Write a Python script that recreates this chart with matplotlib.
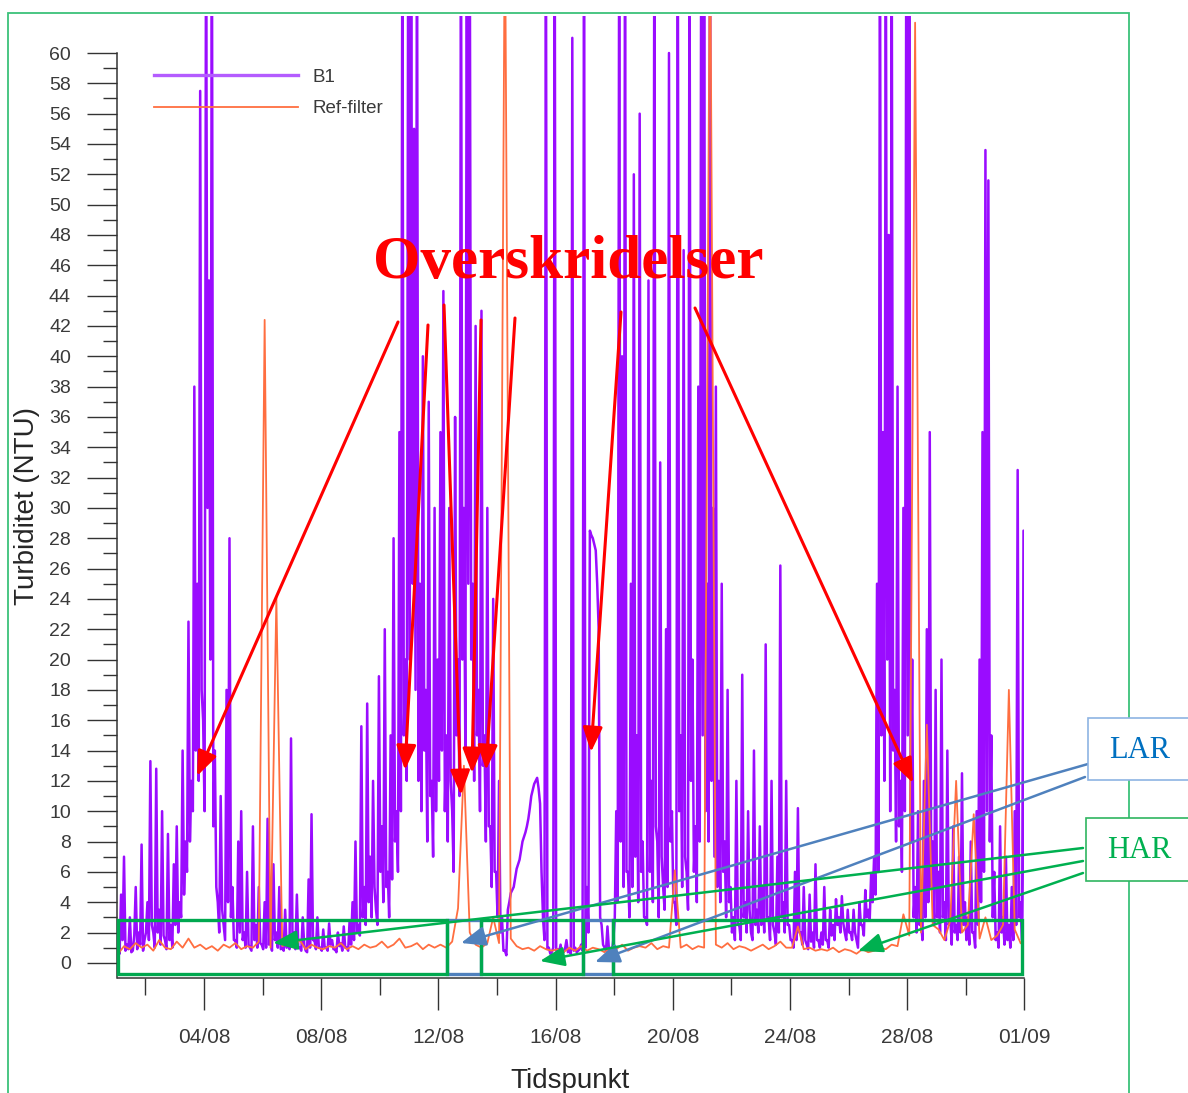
import matplotlib.pyplot as plt
import numpy as np
from matplotlib.patches import Rectangle

plt.rcParams['font.family'] = ['Liberation Sans', 'DejaVu Sans']

W, H = 1188, 1093

# B1 turbidity (NTU), peak reading per 0.1 day from 01/08 (values above 62 are cut by the axis)
b1 = [
    1.0, 4.5, 7.0, 1.2, 3.0, 0.8, 5.0, 2.0, 7.8, 1.5,
    4.0, 13.3, 2.0, 12.8, 3.5, 10.0, 1.5, 8.5, 2.5, 6.5,
    9.0, 4.0, 14.0, 8.0, 22.5, 12.0, 38.0, 25.0, 57.5, 16.0,
    70, 45.0, 70, 14.0, 4.0, 11.0, 2.5, 18.0, 28.0, 5.0,
    1.5, 8.0, 10.0, 2.0, 6.0, 1.0, 9.0, 2.5, 5.0, 1.2,
    4.0, 9.5, 1.5, 6.5, 2.0, 5.0, 1.0, 3.5, 1.2, 14.8,
    2.0, 4.5, 1.0, 3.0, 0.8, 5.5, 9.8, 1.5, 3.0, 1.0,
    2.2, 1.0, 2.6, 1.5, 0.9, 2.0, 1.3, 2.4, 1.0, 2.8,
    4.0, 8.0, 2.5, 15.6, 5.0, 17.1, 7.0, 12.0, 3.5, 18.9,
    9.0, 22.0, 6.0, 15.0, 28.0, 10.0, 35.0, 70, 20.0, 70,
    70, 55.0, 70, 25.0, 40.0, 18.0, 37.0, 12.0, 30.0, 20.0,
    35.0, 44.3, 15.0, 30.0, 10.0, 36.0, 20.0, 70, 30.0, 70,
    70, 25.0, 42.0, 18.0, 43.0, 15.0, 30.0, 9.0, 24.0, 6.0,
    12.0, 3.0, 0.8, 3.5, 4.6, 5.0, 6.2, 6.8, 8.0, 8.6,
    9.5, 11.0, 11.8, 12.2, 10.5, 3.0, 70, 1.0, 0.7, 70,
    0.9, 1.2, 0.7, 1.5, 0.8, 61.0, 1.0, 0.8, 1.2, 70,
    5.0, 28.5, 28.0, 27.2, 22.0, 2.5, 1.0, 2.4, 0.8, 1.5,
    10.0, 70, 40.0, 70, 6.0, 25.0, 52.0, 15.0, 56.0, 8.0,
    3.0, 45.0, 12.0, 70, 8.0, 33.0, 5.0, 22.0, 60.0, 10.0,
    4.0, 70, 15.0, 47.0, 6.0, 70, 20.0, 9.0, 38.0, 70,
    70, 25.0, 70, 30.0, 38.0, 12.0, 25.0, 8.0, 18.0, 5.0,
    3.0, 12.0, 2.5, 19.0, 4.0, 10.0, 2.0, 14.0, 3.5, 9.0,
    5.0, 21.0, 3.0, 12.0, 2.0, 7.0, 26.2, 4.0, 12.0, 2.5,
    1.5, 6.0, 10.2, 2.0, 5.0, 1.2, 4.5, 2.0, 6.5, 1.5,
    2.0, 5.0, 1.5, 3.5, 2.5, 4.2, 3.0, 4.4, 2.0, 3.5,
    2.0, 3.5, 1.5, 4.0, 2.5, 4.8, 3.5, 5.9, 7.0, 25.0,
    70, 35.0, 70, 48.0, 70, 18.0, 38.0, 12.0, 30.0, 70,
    70, 20.0, 5.0, 10.0, 3.0, 12.0, 22.0, 35.0, 8.0, 18.0,
    6.0, 20.0, 4.0, 14.0, 3.0, 9.0, 2.5, 7.0, 12.5, 4.0,
    3.0, 8.0, 2.0, 10.0, 20.0, 35.0, 53.6, 51.6, 15.0, 6.0,
    2.0, 9.0, 3.0, 7.0, 2.5, 5.0, 10.0, 32.5, 4.0, 28.5,
]

# B1 trough reading between consecutive peaks above (0.05 day later)
b1_low = [
    0.6, 1.5, 0.8, 0.9, 0.7, 1.8, 0.9, 1.2, 0.8, 2.0,
    1.5, 2.5, 1.0, 2.0, 1.2, 1.8, 0.9, 1.5, 1.0, 2.5,
    2.0, 3.0, 4.5, 6.0, 8.0, 10.0, 14.0, 12.0, 18.0, 10.0,
    30.0, 20.0, 9.0, 5.0, 2.0, 3.5, 1.5, 4.0, 3.0, 1.5,
    1.0, 2.0, 1.5, 1.0, 1.2, 0.8, 1.5, 1.0, 1.3, 0.9,
    1.0, 1.2, 0.8, 1.5, 1.0, 0.9, 0.8, 1.0, 0.9, 1.5,
    0.9, 1.0, 0.8, 1.2, 0.7, 1.0, 1.5, 0.9, 1.0, 0.8,
    1.0, 0.8, 1.2, 0.9, 0.7, 1.1, 0.8, 1.0, 0.8, 1.2,
    1.5, 2.0, 1.8, 3.0, 2.5, 4.0, 3.0, 5.0, 2.5, 6.0,
    4.0, 5.0, 3.0, 5.5, 8.0, 6.0, 10.0, 15.0, 12.0, 20.0,
    25.0, 18.0, 12.0, 10.0, 14.0, 8.0, 11.0, 7.0, 10.0, 12.0,
    14.0, 10.0, 8.0, 12.0, 6.0, 15.0, 11.0, 20.0, 14.0, 25.0,
    20.0, 12.0, 15.0, 10.0, 13.0, 8.0, 9.0, 5.0, 6.0, 3.0,
    2.0, 0.8, 0.5, 4.0, 4.8, 5.6, 6.5, 7.4, 8.3, 9.0,
    10.2, 11.4, 12.0, 11.5, 6.0, 1.5, 0.9, 0.6, 1.0, 0.8,
    0.7, 0.6, 0.9, 0.7, 0.6, 0.8, 0.7, 0.9, 0.8, 1.0,
    2.0, 28.2, 27.6, 25.0, 3.0, 1.2, 0.8, 0.9, 0.7, 3.0,
    4.0, 8.0, 5.0, 6.0, 3.0, 5.0, 7.0, 4.0, 6.0, 3.0,
    2.5, 6.0, 4.0, 9.0, 3.0, 7.0, 3.5, 5.0, 8.0, 4.0,
    2.5, 10.0, 5.0, 7.0, 3.5, 12.0, 6.0, 4.0, 8.0, 15.0,
    10.0, 8.0, 12.0, 7.0, 5.0, 4.0, 6.0, 3.0, 4.0, 2.0,
    1.5, 2.5, 1.5, 3.0, 2.0, 3.5, 1.5, 2.5, 2.0, 2.5,
    2.0, 3.0, 1.5, 2.5, 1.2, 2.0, 3.0, 2.0, 2.5, 1.5,
    1.0, 1.5, 2.0, 1.2, 1.5, 0.9, 1.4, 1.0, 1.5, 1.0,
    1.2, 1.5, 1.0, 1.8, 1.5, 2.5, 2.0, 2.6, 1.5, 2.0,
    1.5, 2.0, 1.0, 2.5, 1.8, 3.0, 2.8, 4.0, 4.5, 6.0,
    15.0, 12.0, 20.0, 10.0, 14.0, 8.0, 9.0, 6.0, 10.0, 15.0,
    8.0, 3.0, 2.0, 2.5, 1.5, 3.0, 4.0, 5.0, 2.5, 3.0,
    2.0, 3.0, 1.5, 2.5, 1.2, 2.0, 1.5, 2.0, 2.5, 1.5,
    1.2, 2.0, 1.0, 2.5, 4.0, 6.0, 10.0, 8.0, 3.0, 1.5,
    1.0, 2.0, 1.2, 1.5, 1.0, 1.5, 2.5, 3.0, 1.5, 3.0,
]

# Ref-filter turbidity (NTU), one reading per 0.2 day
ref = [
    0.6, 1.1, 0.9, 1.3, 1.0,
    1.2, 0.8, 1.5, 1.0, 0.9,
    1.4, 1.0, 1.6, 1.0, 1.2,
    0.9, 1.1, 0.8, 1.2, 1.0,
    1.3, 0.9, 1.1, 1.0, 1.4,
    42.4, 1.0, 24.1, 1.1, 1.3,
    1.0, 1.5, 0.9, 1.2, 1.0,
    0.9, 1.1, 1.0, 1.3, 0.9,
    1.1, 0.9, 1.2, 1.0, 1.1,
    1.4, 1.0, 1.2, 1.6, 1.0,
    1.1, 1.3, 0.9, 1.2, 1.0,
    1.2, 1.0, 1.4, 3.6, 13.0,
    2.0, 1.2, 1.0, 1.3, 3.0,
    1.3, 70, 1.6, 1.1, 0.9,
    1.0, 0.8, 1.1, 0.9, 0.8,
    0.9, 0.7, 1.0, 0.8, 1.1,
    0.8, 1.0, 0.9, 0.7, 1.0,
    0.9, 1.2, 0.8, 1.0, 1.1,
    1.0, 1.3, 0.9, 1.1, 1.0,
    6.1, 1.0, 1.2, 0.9, 1.1,
    1.0, 70, 1.2, 1.0, 1.3,
    0.9, 1.1, 1.0, 0.8, 1.0,
    1.2, 0.9, 1.1, 1.4, 1.0,
    1.0, 2.4, 0.9, 1.0, 0.8,
    0.9, 0.8, 1.0, 0.7, 0.9,
    0.8, 0.6, 0.9, 0.7, 0.8,
    1.0, 0.9, 1.2, 1.1, 3.2,
    1.8, 62.0, 2.0, 15.7, 2.5,
    2.2, 1.5, 2.8, 12.0, 2.0,
    2.5, 9.8, 1.6, 3.0, 1.5,
    1.8, 2.5, 18.0, 2.2, 1.3,
]

b1_series = np.column_stack([b1, b1_low]).ravel()
b1_days = 0.07 + 0.05 * np.arange(len(b1_series))
ref_days = 0.07 + 0.2 * np.arange(len(ref))

tick_days = [3, 7, 11, 15, 19, 23, 27, 31]
tick_labels = ['04/08', '08/08', '12/08', '16/08', '20/08', '24/08', '28/08', '01/09']
minor_days = [1, 5, 9, 13, 17, 21, 25, 29]

# periods marked as HAR / LAR (days from 01/08)
har_spans = [(0.065, 11.29), (12.45, 15.93), (16.96, 30.92)]
lar_spans = [(11.29, 12.45), (15.93, 16.96)]


def fp(x, y):
    # picture pixel (from top-left) -> figure fraction
    return (x / W, 1 - y / H)


fig = plt.figure(figsize=(W / 100, H / 100), dpi=100)
ax = fig.add_axes([117.5 / W, (H - 978) / H, (1024.4 - 117.5) / W, (978 - 15.7) / H])

ax.plot(b1_days, b1_series, color='#9a0cff', lw=1.8, label='B1')
ax.plot(ref_days, ref, color='#ff6e40', lw=1.3, label='Ref-filter')

ax.set_xlim(0.048, 31.0)
ax.set_ylim(-1, 62.46)
ax.set_yticks(np.arange(0, 61, 2))
ax.set_yticks(np.arange(1, 60, 2), minor=True)
ax.set_xticks(tick_days)
ax.set_xticklabels(tick_labels)
ax.set_xticks(minor_days, minor=True)

for s in ['top', 'right']:
    ax.spines[s].set_visible(False)
ax.spines['left'].set_bounds(-1, 60)
for s in ['left', 'bottom']:
    ax.spines[s].set_color('#333333')
    ax.spines[s].set_linewidth(1.1)

ax.tick_params(axis='y', which='major', length=21.5, width=1.0, color='#333333',
               labelsize=14, labelcolor='#3a3a3a', pad=12)
ax.tick_params(axis='y', which='minor', length=10, width=1.0, color='#333333')
ax.tick_params(axis='x', which='major', length=23, width=1.0, color='#333333',
               labelsize=15, labelcolor='#3a3a3a', pad=13)
ax.tick_params(axis='x', which='minor', length=12, width=1.0, color='#333333')

leg = ax.legend(loc='upper left', bbox_to_anchor=(0.0402, 0.945), frameon=False,
                handlelength=7.7, handletextpad=0.75, labelspacing=0.77, fontsize=13.5,
                borderpad=0, borderaxespad=0, labelcolor='#3a3a3a')
leg.get_lines()[0].set_color('#b45cff')
leg.get_lines()[0].set_linewidth(2.4)

fig.text(*fp(27, 506), 'Turbiditet (NTU)', rotation=90, ha='center', va='center',
         fontsize=20, color='#262626')
fig.text(*fp(570, 1088), 'Tidspunkt', ha='center', va='baseline', fontsize=20,
         color='#262626')

# HAR / LAR periods along the bottom
for a, b in lar_spans:
    ax.add_patch(Rectangle((a, -0.72), b - a, 3.57, fill=False, ec='#4f81bd', lw=2.4,
                           clip_on=False, zorder=5))
for a, b in har_spans:
    ax.add_patch(Rectangle((a, -0.72), b - a, 3.57, fill=False, ec='#00a84f', lw=2.4,
                           clip_on=False, zorder=6))

# outer frame
fig.patches.append(Rectangle(fp(8, 1200), 1121 / W, (1200 - 12.7) / H, fill=False,
                             ec='#3cc27a', lw=1.3, transform=fig.transFigure, zorder=0))

fig.text(*fp(568, 278), 'Overskridelser', ha='center', va='baseline', fontsize=44,
         fontweight='bold', family='Liberation Serif', color='#ff0000', zorder=10)

red_arrows = [((398, 322), (197, 776)), ((428, 325), (405, 770)), ((444, 305), (461, 795)),
              ((481, 320), (472, 773)), ((515, 318), (486, 770)), ((621, 312), (591, 752)),
              ((695, 308), (913, 783))]
lar_arrows = [((1088, 764), (461, 943)), ((1085, 777), (595, 962))]
har_arrows = [((1083, 848), (273, 943)), ((1083, 861), (540, 961)), ((1083, 873), (858, 951))]

for group, col, lw in [(red_arrows, '#ff0000', 2.2), (lar_arrows, '#4f81bd', 1.8),
                       (har_arrows, '#00b050', 1.8)]:
    for start, end in group:
        ax.annotate('', xy=fp(*end), xytext=fp(*start), xycoords='figure fraction',
                    textcoords='figure fraction', annotation_clip=False,
                    arrowprops=dict(arrowstyle='-|>,head_length=0.75,head_width=0.3',
                                    mutation_scale=20, color=col, lw=lw,
                                    shrinkA=0, shrinkB=0), zorder=12)

# LAR / HAR labels
fig.patches.append(Rectangle(fp(1088, 780), 120 / W, 62 / H, fc='white', ec='#8eb4e3',
                             lw=1.2, transform=fig.transFigure, zorder=3))
fig.patches.append(Rectangle(fp(1086, 881), 120 / W, 63 / H, fc='white', ec='#2fb560',
                             lw=1.2, transform=fig.transFigure, zorder=3))
fig.text(*fp(1140, 758), 'LAR', ha='center', va='baseline', fontsize=22,
         family='Liberation Serif', color='#0070c0', zorder=4)
fig.text(*fp(1139, 858), 'HAR', ha='center', va='baseline', fontsize=22,
         family='Liberation Serif', color='#00b050', zorder=4)

fig.savefig('out.png', dpi=100)
